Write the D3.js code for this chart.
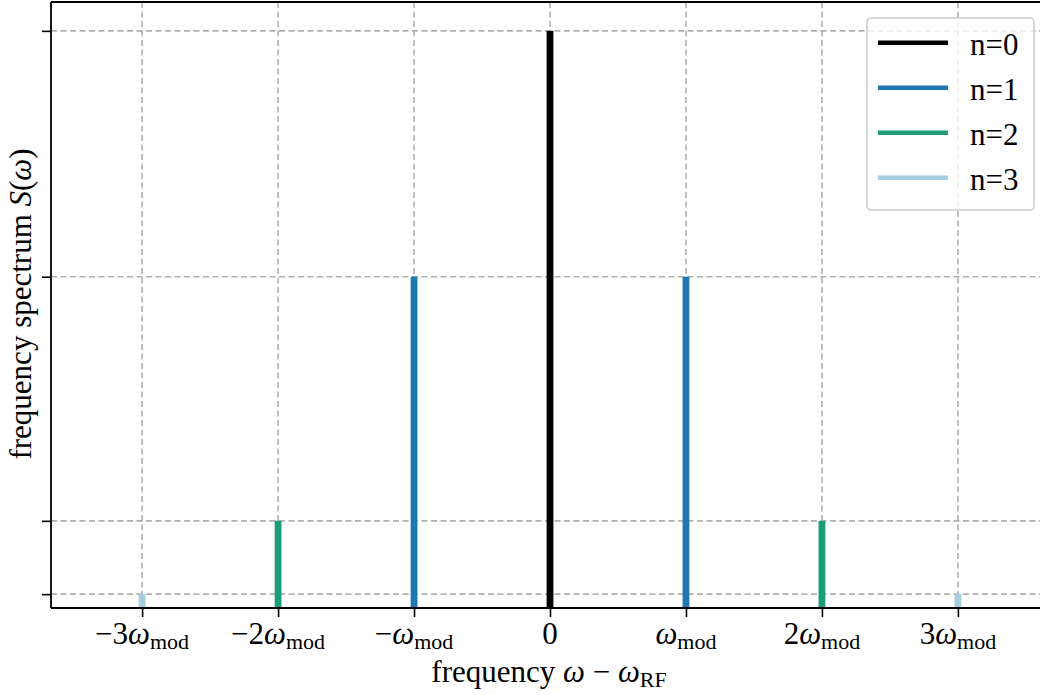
<!DOCTYPE html>
<html>
<head>
<meta charset="utf-8">
<script src="https://cdn.jsdelivr.net/npm/d3@7"></script>
<style>
  body { margin: 0; background: #fff; }
  svg text { font-family: "Liberation Serif", "Times New Roman", serif; fill: #000; }
</style>
</head>
<body>
<svg id="chart" width="1040" height="695"></svg>
<script>
// Sideband orders and their spectral weights
const orders = [0, 1, 2, 3];
const seriesLabels = ["n=0", "n=1", "n=2", "n=3"];
const amplitudes = [1.0, 0.574, 0.151, 0.024];
const seriesColors = ["#000000", "#1f77b4", "#1b9e77", "#a6cee3"];

// Frequency axis ticks (in units of the modulation frequency)
const xTickValues = [-3, -2, -1, 0, 1, 2, 3];
const xTickPrefix = ["\u22123", "\u22122", "\u2212", "0", "", "2", "3"];
const xTickHasOmega = [true, true, true, false, true, true, true];

(function () {
const svg = d3.select("#chart");
const plotLeft = 51, plotTop = 2, plotBottom = 608, plotRight = 1049;

const x = d3.scaleLinear().domain([-3.67, 3.67]).range([plotLeft, plotRight]);
const y = d3.scaleLinear().domain([0, 1.05]).range([plotBottom, plotTop]);

const fontSize = 31;
const subSize = 22;
const gridColor = "#b0b0b0";

// grid
const grid = svg.append("g");
grid.selectAll("line.gx").data(xTickValues).enter().append("line")
  .attr("x1", d => x(d)).attr("x2", d => x(d))
  .attr("y1", plotTop).attr("y2", plotBottom)
  .attr("stroke", gridColor).attr("stroke-width", 1.6)
  .attr("stroke-dasharray", "6,3.5");
grid.selectAll("line.gy").data(amplitudes).enter().append("line")
  .attr("x1", plotLeft).attr("x2", plotRight)
  .attr("y1", d => y(d)).attr("y2", d => y(d))
  .attr("stroke", gridColor).attr("stroke-width", 1.6)
  .attr("stroke-dasharray", "6,3.5");

// spectral lines: each order n sits at +n and -n
const lines = [];
orders.forEach((n, i) => {
  const pos = n === 0 ? [0] : [-n, n];
  pos.forEach(p => lines.push({ pos: p, value: amplitudes[i], color: seriesColors[i] }));
});
const halfW = 0.025;
svg.append("g").selectAll("rect").data(lines).enter().append("rect")
  .attr("x", d => x(d.pos - halfW))
  .attr("width", d => x(d.pos + halfW) - x(d.pos - halfW))
  .attr("y", d => y(d.value))
  .attr("height", d => y(0) - y(d.value))
  .attr("fill", d => d.color);

// spines
svg.append("path")
  .attr("d", `M${plotLeft},${plotTop}H${plotRight}M${plotLeft},${plotTop}V${plotBottom}M${plotLeft},${plotBottom}H${plotRight}`)
  .attr("stroke", "#000").attr("stroke-width", 1.8).attr("fill", "none");

// y axis ticks (no labels)
const yAxis = d3.axisLeft(y).tickValues(amplitudes).tickSize(9).tickFormat("");
const gy = svg.append("g").attr("transform", `translate(${plotLeft},0)`).call(yAxis);
gy.select(".domain").remove();
gy.selectAll(".tick line").attr("stroke", "#000").attr("stroke-width", 1.6);

// x axis ticks
const xAxis = d3.axisBottom(x).tickValues(xTickValues).tickSize(9).tickFormat("");
const gx = svg.append("g").attr("transform", `translate(0,${plotBottom})`).call(xAxis);
gx.select(".domain").remove();
gx.selectAll(".tick line").attr("stroke", "#000").attr("stroke-width", 1.6);

// x tick labels with omega_mod
xTickValues.forEach((v, i) => {
  const t = svg.append("text")
    .attr("x", x(v)).attr("y", 644)
    .attr("text-anchor", "middle")
    .attr("font-size", fontSize);
  t.append("tspan").text(xTickPrefix[i]);
  if (xTickHasOmega[i]) {
    t.append("tspan").attr("font-style", "italic").text("\u03c9");
    t.append("tspan").attr("font-size", subSize).attr("dy", 4.5).text("mod");
  }
});

// axis labels
const xl = svg.append("text")
  .attr("x", 549).attr("y", 682)
  .attr("text-anchor", "middle")
  .attr("font-size", fontSize);
xl.append("tspan").text("frequency ");
xl.append("tspan").attr("font-style", "italic").text("\u03c9");
xl.append("tspan").text(" \u2212 ");
xl.append("tspan").attr("font-style", "italic").text("\u03c9");
xl.append("tspan").attr("font-size", subSize).attr("dy", 4.5).text("RF");

const yl = svg.append("text")
  .attr("transform", `translate(31,304) rotate(-90)`)
  .attr("text-anchor", "middle")
  .attr("font-size", fontSize);
yl.append("tspan").text("frequency spectrum ");
yl.append("tspan").attr("font-style", "italic").text("S");
yl.append("tspan").text("(");
yl.append("tspan").attr("font-style", "italic").text("\u03c9");
yl.append("tspan").text(")");

// legend
const lg = svg.append("g");
lg.append("rect")
  .attr("x", 867).attr("y", 18).attr("width", 167).attr("height", 192)
  .attr("rx", 4).attr("fill", "#fff").attr("fill-opacity", 0.8)
  .attr("stroke", "#cccccc").attr("stroke-width", 1.6);
seriesLabels.forEach((lab, i) => {
  const cy = 42.7 + i * 45;
  lg.append("line")
    .attr("x1", 878).attr("x2", 948).attr("y1", cy).attr("y2", cy)
    .attr("stroke", seriesColors[i]).attr("stroke-width", 4.5);
  lg.append("text")
    .attr("x", 970).attr("y", cy + 12.5)
    .attr("font-size", fontSize)
    .text(lab);
});
})();
</script>
</body>
</html>
